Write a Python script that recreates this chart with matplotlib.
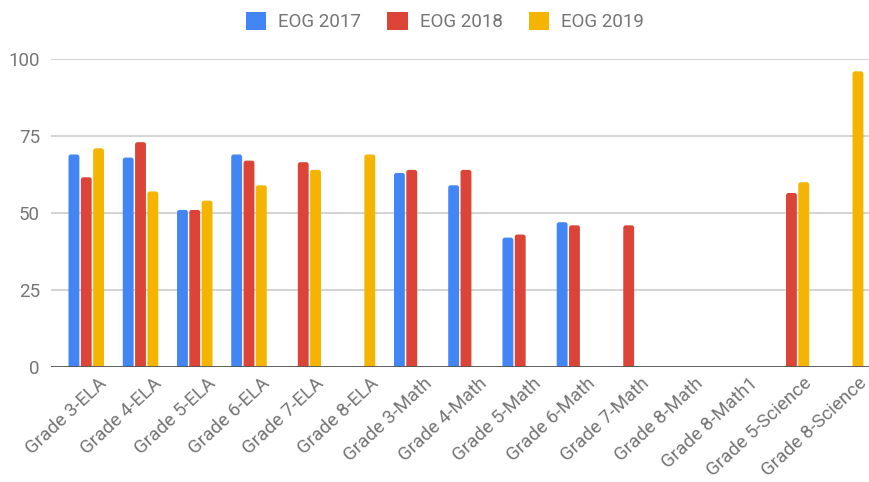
import numpy as np
import matplotlib
matplotlib.use("Agg")
import matplotlib.pyplot as plt
from matplotlib.patches import Patch, FancyBboxPatch

plt.rcParams['font.family'] = ['Roboto', 'DejaVu Sans']

categories = ["Grade 3-ELA", "Grade 4-ELA", "Grade 5-ELA", "Grade 6-ELA", "Grade 7-ELA",
              "Grade 8-ELA", "Grade 3-Math", "Grade 4-Math", "Grade 5-Math", "Grade 6-Math",
              "Grade 7-Math", "Grade 8-Math", "Grade 8-Math1", "Grade 5-Science", "Grade 8-Science"]
nan = np.nan
eog2017 = [69, 68, 51, 69, nan, nan, 63, 59, 42, 47, nan, nan, nan, nan, nan]
eog2018 = [61.6, 73, 51, 67, 66.5, nan, 64, 64, 43, 46, 46, nan, nan, 56.5, nan]
eog2019 = [71, 57, 54, 59, 64, 69, nan, nan, nan, nan, nan, nan, nan, 60, 96]
series_names = ["EOG 2017", "EOG 2018", "EOG 2019"]
yticks = [0, 25, 50, 75, 100]

colors = ["#4285F4", "#DB4437", "#F4B400"]
text_color = "#757575"

W, H = 869, 482
fig = plt.figure(figsize=(W / 100, H / 100), dpi=100)
ax = fig.add_axes([51 / W, (H - 367) / H, (869 - 51) / W, (367 - 59) / H])

ax.set_xlim(-0.65, 14.43)
ax.set_ylim(0, 100)

x = np.arange(len(categories))
width = 0.2
offset = 0.227
px_x = (869 - 51) / (14.43 + 0.65)
px_y = (367 - 59) / 100.0
aspect = px_x / px_y
for k, (vals, c) in enumerate(zip([eog2017, eog2018, eog2019], colors)):
    bars = ax.bar(x + (k - 1) * offset, vals, width=width, color=c, zorder=3, linewidth=0)
    for p in bars.patches:
        h = p.get_height()
        if not np.isfinite(h) or h <= 0:
            continue
        p.set_visible(False)
        ext = 2.0
        fb = FancyBboxPatch((p.get_x(), p.get_y() - ext), p.get_width(), h + ext,
                            boxstyle="round,pad=0,rounding_size=0.045",
                            mutation_aspect=aspect, facecolor=c, edgecolor='none',
                            zorder=3, clip_on=True)
        ax.add_patch(fb)

ax.set_yticks(yticks)
ax.set_yticklabels([str(t) for t in yticks])
ax.grid(axis='y', color='#cccccc', linewidth=1.2, zorder=0)
ax.axhline(0, color='#555555', linewidth=2, zorder=4)
for s in ax.spines.values():
    s.set_visible(False)
ax.tick_params(axis='y', length=0, pad=8, labelsize=13.5, labelcolor=text_color)
ax.tick_params(axis='x', length=0, pad=5, labelsize=13.5, labelcolor=text_color)
ax.set_xticks(x)
ax.set_xticklabels(categories, rotation=43, ha='right', rotation_mode='anchor')
for lbl in ax.get_xticklabels():
    lbl.set_transform(lbl.get_transform() + matplotlib.transforms.ScaledTranslation(0.12, 0, fig.dpi_scale_trans))

handles = [Patch(facecolor=c, edgecolor='none') for c in colors]
fig.legend(handles, series_names, loc='upper center', bbox_to_anchor=(0.512, 1.01), ncol=3,
           frameon=False, fontsize=13.5, labelcolor=text_color, handlelength=1.08, handleheight=1.08,
           columnspacing=1.4, handletextpad=0.65)

fig.savefig("out.png", dpi=100)
